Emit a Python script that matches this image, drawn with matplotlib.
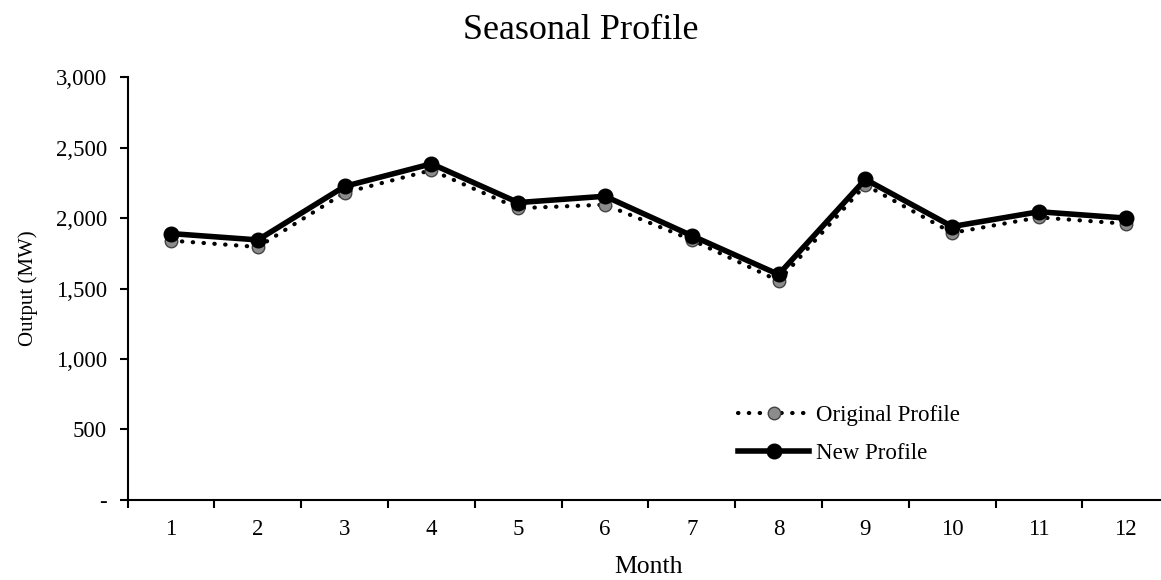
import matplotlib
matplotlib.use("Agg")
import matplotlib.pyplot as plt
from matplotlib.ticker import FuncFormatter, FixedLocator

months = [1, 2, 3, 4, 5, 6, 7, 8, 9, 10, 11, 12]
original = [1840, 1795, 2180, 2340, 2070, 2095, 1845, 1555, 2235, 1895, 2005, 1960]
new = [1890, 1845, 2225, 2385, 2110, 2155, 1875, 1600, 2275, 1940, 2045, 2000]

plt.rcParams['font.family'] = ['Liberation Serif', 'DejaVu Serif']

fig = plt.figure(figsize=(11.61, 5.80), dpi=100)
ax = fig.add_axes([0.110, 0.138, 0.897, 0.729])

ax.plot(months, original, color='black', linestyle=(0, (0.1, 2.5)), linewidth=3,
        dash_capstyle='round', marker='o', markersize=9, markerfacecolor='#8c8c8c',
        markeredgecolor='#444444', markeredgewidth=1, label='Original Profile', zorder=2)
ax.plot(months, new, color='black', linewidth=4, marker='o', markersize=10.5,
        markerfacecolor='black', markeredgecolor='black', label='New Profile', zorder=3)

ax.set_xlim(0.5, 12.5)
ax.set_ylim(0, 3000)
ax.set_yticks([0, 500, 1000, 1500, 2000, 2500, 3000])
ax.yaxis.set_major_formatter(FuncFormatter(lambda v, p: '-' if v == 0 else f'{int(v):,}'))

# month labels at centres, tick marks at the boundaries
ax.set_xticks(months)
ax.set_xticklabels([str(m) for m in months])
ax.tick_params(axis='x', which='major', length=0, pad=14, labelsize=16.5)
ax.xaxis.set_minor_locator(FixedLocator([m + 0.5 for m in range(0, 13)]))
ax.tick_params(axis='x', which='minor', length=6, width=1.5, direction='out')
ax.tick_params(axis='y', which='major', length=6, width=1.5, direction='out', labelsize=16.5, pad=9)

for s in ['top', 'right']:
    ax.spines[s].set_visible(False)
ax.spines['left'].set_linewidth(1.5)
ax.spines['bottom'].set_linewidth(1.5)

fig.suptitle('Seasonal Profile', fontsize=26, x=0.5, y=0.948, va='center')
ax.set_xlabel('Month', fontsize=18.5, labelpad=11)
ax.set_ylabel('Output (MW)', fontsize=15, labelpad=13)

ax.legend(loc='upper left', bbox_to_anchor=(0.636, 0.301), bbox_transform=fig.transFigure,
          frameon=False, fontsize=16.5, borderpad=0, borderaxespad=0,
          handlelength=3.1, handletextpad=0.3, labelspacing=0.72)

fig.savefig('out.png', dpi=100)
